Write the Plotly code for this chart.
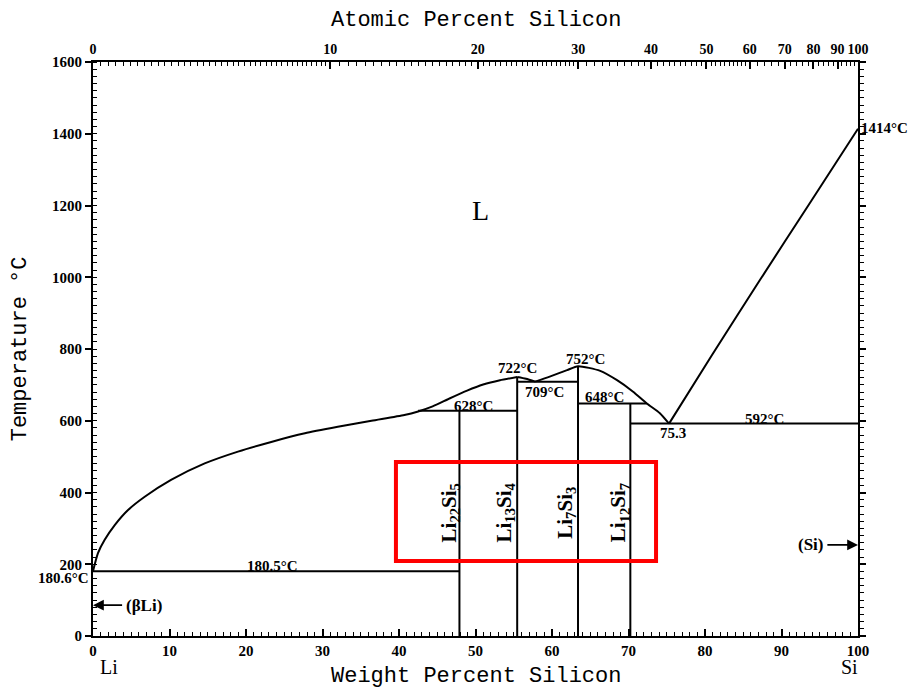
import numpy as np
import plotly.graph_objects as go

# ---------------- data (wt% Si, temperature in deg C) ----------------
# liquidus, split into smooth branches
LIQ_LI_WT = [0, 0.65, 1.53, 2.84, 4.58, 6.76, 10.2, 14.6, 18.95, 23.3, 27.7, 32.0, 36.4, 40.7,
             42.5, 44.4, 46.6, 48.9, 51.0, 53.2, 55.45]
LIQ_LI_T = [180.6, 231, 268, 309, 351, 388, 435, 481, 514, 541, 565, 583, 600, 616,
            626, 640, 662, 684, 701, 713, 722]
LIQ_MID_WT = [55.45, 56.6, 57.8]
LIQ_MID_T = [722, 717, 709]
LIQ_HI_WT = [57.8, 59.7, 61.97, 63.4, 66.3, 68.5, 70.6, 72.4, 74.1, 75.3]
LIQ_HI_T = [709, 723, 741, 752, 739, 713, 681, 648, 621, 592]
LIQ_SI_WT = [75.3, 81.0, 87.2, 93.5, 100]
LIQ_SI_T = [592, 786, 993, 1200, 1414]

# invariant (horizontal) lines
INV_T = [180.5, 628, 709, 648, 592]
INV_WT_FROM = [0, 42.5, 55.45, 63.4, 70.24]
INV_WT_TO = [47.9, 55.45, 63.4, 72.4, 100]
INV_LABELS = ["180.5°C", "628°C", "709°C", "648°C", "592°C"]

# intermediate compounds (vertical lines)
COMPOUNDS = ["Li<sub>22</sub>Si<sub>5</sub>", "Li<sub>13</sub>Si<sub>4</sub>",
             "Li<sub>7</sub>Si<sub>3</sub>", "Li<sub>12</sub>Si<sub>7</sub>"]
COMP_WT = [47.9, 55.45, 63.4, 70.24]
COMP_TOP_T = [628, 722, 752, 648]

# axis tick labels
AT_TICKS = [0, 10, 20, 30, 40, 50, 60, 70, 80, 90, 100]
WT_TICKS = [0, 10, 20, 30, 40, 50, 60, 70, 80, 90, 100]
T_TICKS = [0, 200, 400, 600, 800, 1000, 1200, 1400, 1600]

M_LI, M_SI = 6.941, 28.0855


def at_to_wt(a):
    a = np.asarray(a, dtype=float)
    return 100 * a * M_SI / (a * M_SI + (100 - a) * M_LI)


# top-axis minor tick positions (at%)
at_minor = np.concatenate([np.arange(0, 10, 0.25), np.arange(10, 30, 0.5),
                           np.arange(30, 60, 1.0), np.arange(60, 100, 2.0)])

LINE = dict(color="black", width=2)
fig = go.Figure()

for wx, ty in [(LIQ_LI_WT, LIQ_LI_T), (LIQ_MID_WT, LIQ_MID_T),
               (LIQ_HI_WT, LIQ_HI_T), (LIQ_SI_WT, LIQ_SI_T)]:
    fig.add_trace(go.Scatter(x=wx, y=ty, mode="lines",
                             line=dict(color="black", width=2, shape="spline", smoothing=0.6),
                             hoverinfo="skip", showlegend=False))

for t, a, b in zip(INV_T, INV_WT_FROM, INV_WT_TO):
    fig.add_trace(go.Scatter(x=[a, b], y=[t, t], mode="lines", line=LINE, showlegend=False, hoverinfo="skip"))

for w, t in zip(COMP_WT, COMP_TOP_T):
    fig.add_trace(go.Scatter(x=[w, w], y=[0, t], mode="lines", line=LINE, showlegend=False, hoverinfo="skip"))

# ---------------- axes ----------------
TICKFONT = dict(family="Liberation Serif", size=15, color="black", weight="bold")
fig.update_layout(
    width=908, height=680,
    margin=dict(l=85, r=58, t=54, b=52),
    paper_bgcolor="white", plot_bgcolor="white",
    showlegend=False,
    xaxis=dict(range=[0, 100], tickvals=WT_TICKS, showgrid=False, zeroline=False, tickangle=0,
               showline=True, linecolor="black", linewidth=2, ticks="inside", ticklen=7,
               tickwidth=1.5, tickcolor="black", tickfont=TICKFONT,
               minor=dict(dtick=1, ticks="inside", ticklen=4, tickcolor="black", tickwidth=1)),
    xaxis2=dict(range=[0, 100], overlaying="x", side="top", tickvals=at_to_wt(AT_TICKS).tolist(),
                ticktext=[str(a) for a in AT_TICKS], showgrid=False, zeroline=False, tickangle=0,
                showline=True, linecolor="black", linewidth=2, ticks="inside", ticklen=7,
                tickwidth=1.5, tickcolor="black",
                tickfont=dict(family="Liberation Serif", size=14, color="black", weight="bold")),
    xaxis3=dict(range=[0, 100], overlaying="x", side="top", tickvals=at_to_wt(at_minor).tolist(),
                showticklabels=False, showgrid=False, zeroline=False, showline=False,
                ticks="inside", ticklen=4, tickwidth=1, tickcolor="black"),
    yaxis=dict(range=[0, 1600], tickvals=T_TICKS, showgrid=False, zeroline=False,
               showline=True, linecolor="black", linewidth=2, ticks="outside", ticklen=6,
               tickwidth=1.5, tickcolor="black", tickfont=TICKFONT,
               minor=dict(dtick=20, ticks="inside", ticklen=4, tickcolor="black", tickwidth=1)),
    yaxis2=dict(range=[0, 1600], overlaying="y", side="right", tickvals=T_TICKS,
                showticklabels=False, showgrid=False, zeroline=False, showline=True,
                linecolor="black", linewidth=2, ticks="outside", ticklen=6, tickwidth=1.5,
                tickcolor="black",
                minor=dict(dtick=20, ticks="outside", ticklen=4, tickcolor="black", tickwidth=1)),
)
# dummy traces to activate overlay axes
fig.add_trace(go.Scatter(x=[None], y=[None], xaxis="x2", yaxis="y2", showlegend=False))
fig.add_trace(go.Scatter(x=[None], y=[None], xaxis="x3", yaxis="y", showlegend=False))

# ---------------- annotations ----------------
LBL = dict(family="Liberation Serif", size=15, color="black", weight="bold")
BIG = dict(family="Liberation Serif", size=17, color="black", weight="bold")
ann = []


def txt(x, y, s, **kw):
    d = dict(x=x, y=y, text=s, showarrow=False, font=LBL, xref="x", yref="y")
    d.update(kw)
    ann.append(d)


txt(50.6, 1185, "L", font=dict(family="Liberation Serif", size=28, color="black"))
txt(55.5, 748, "722°C")
txt(64.4, 773, "752°C")
inv_pos = [(23.4, 194), (49.7, 642), (59.0, 681), (66.8, 667), (87.8, 606)]
for (x, y), s in zip(inv_pos, INV_LABELS):
    txt(x, y, s)
txt(75.8, 566, "75.3")
txt(100, 1416, "1414°C", xanchor="left", xshift=1)
txt(0, 163, "180.6°C", xanchor="right", xshift=-2)

comp_x = [46.6, 53.8, 61.8, 68.8]
for x, s in zip(comp_x, COMPOUNDS):
    txt(x, 343, s, textangle=-90,
        font=dict(family="Liberation Serif", size=21, color="black", weight="bold"))

# phase arrows
ann.append(dict(x=0, y=86, ax=4.0, ay=86, axref="x", ayref="y", xref="x", yref="y", text="",
                showarrow=True, arrowhead=2, arrowsize=1.2, arrowwidth=1.8, arrowcolor="black"))
txt(4.0, 86, "(βLi)", xanchor="left", font=BIG)
ann.append(dict(x=100, y=254, ax=95.8, ay=254, axref="x", ayref="y", xref="x", yref="y", text="",
                showarrow=True, arrowhead=2, arrowsize=1.2, arrowwidth=1.8, arrowcolor="black"))
txt(95.8, 254, "(Si)", xanchor="right", font=BIG)

TITLEFONT = dict(family="Liberation Mono", size=22, color="black")
ann.append(dict(x=0.5, y=-0.070, xref="paper", yref="paper", text="Weight Percent Silicon",
                showarrow=False, font=TITLEFONT, yanchor="middle"))
ann.append(dict(x=0.5, y=1.073, xref="paper", yref="paper", text="Atomic Percent Silicon",
                showarrow=False, font=TITLEFONT, yanchor="middle"))
ann.append(dict(x=-0.095, y=0.5, xref="paper", yref="paper", text="Temperature °C", textangle=-90,
                showarrow=False, font=TITLEFONT, xanchor="center"))
ann.append(dict(x=0.006, y=-0.077, xref="paper", yref="paper", text="Li", showarrow=False,
                font=dict(family="Liberation Serif", size=20, color="black")))
ann.append(dict(x=1.003, y=-0.077, xref="paper", yref="paper", text="Si", showarrow=False,
                font=dict(family="Liberation Serif", size=20, color="black")))
fig.update_layout(annotations=ann)

# highlight rectangle
HIGHLIGHT_WT = (39.6, 73.6)
HIGHLIGHT_T = (209, 485)
fig.add_shape(type="rect", xref="x", yref="y", x0=HIGHLIGHT_WT[0], x1=HIGHLIGHT_WT[1],
              y0=HIGHLIGHT_T[0], y1=HIGHLIGHT_T[1], line=dict(color="#ff0000", width=4))

fig.write_html("out.html")
